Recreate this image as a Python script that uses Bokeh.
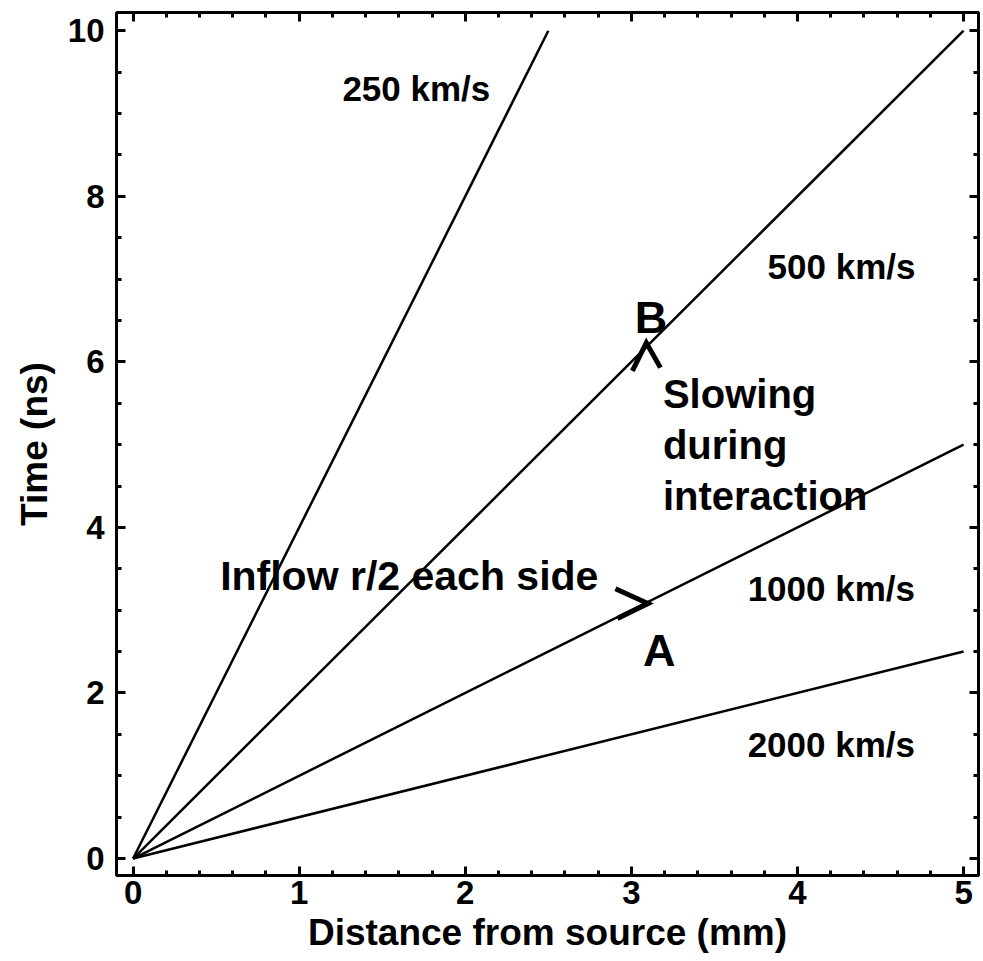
from bokeh.plotting import figure
from bokeh.models import LinearAxis, SingleIntervalTicker, Range1d, CustomJSTickFormatter
from bokeh.core.properties import value
from bokeh.embed import file_html
from bokeh.resources import INLINE

FONT = "Liberation Sans"

# Flight lines from the source: each starts at the origin and ends at the frame edge
speeds = ["250 km/s", "500 km/s", "1000 km/s", "2000 km/s"]
end_distance = [2.5, 5.0, 5.0, 5.0]     # mm
end_time = [10.0, 10.0, 5.0, 2.5]       # ns

# Speed labels (left edge, baseline) in data units
speed_label_x = [1.26, 3.82, 3.70, 3.70]
speed_label_y = [9.30, 7.15, 3.26, 1.375]

# Annotations
note_text = ["Inflow r/2 each side", "Slowing", "during", "interaction"]
note_x = [0.524, 3.19, 3.19, 3.19]
note_y = [3.41, 5.61, 4.99, 4.38]

point_text = ["A", "B"]
point_x = [3.07, 3.02]
point_y = [2.51, 6.53]

# Chevron markers pointing at A and B
chev_a_x = [2.904, 3.10, 2.916]
chev_a_y = [3.26, 3.08, 2.90]
chev_b_x = [3.006, 3.09, 3.175]
chev_b_y = [5.89, 6.23, 5.93]

p = figure(width=983, height=961, output_backend="svg", toolbar_location=None,
           x_range=Range1d(-0.1, 5.09), y_range=Range1d(-0.205, 10.22),
           min_border_left=116, min_border_right=5, min_border_top=12,
           min_border_bottom=86, x_axis_label="Distance from source (mm)",
           y_axis_label="Time (ns)")
p.grid.visible = False
p.background_fill_color = "white"
p.border_fill_color = "white"
p.outline_line_color = "black"
p.outline_line_width = 3
p.outline_line_alpha = 1

# Mirror ticks on the top and right edges, without labels
top = LinearAxis(formatter=CustomJSTickFormatter(code="return ''"))
right = LinearAxis(formatter=CustomJSTickFormatter(code="return ''"))
p.add_layout(top, "above")
p.add_layout(right, "right")

for ax in p.xaxis:
    ax.ticker = SingleIntervalTicker(interval=1, num_minor_ticks=5)
for ax in p.yaxis:
    ax.ticker = SingleIntervalTicker(interval=2, num_minor_ticks=4)

for ax in p.axis:
    ax.axis_line_color = None
    ax.major_tick_in = 9
    ax.major_tick_out = 0
    ax.minor_tick_in = 5
    ax.minor_tick_out = 0
    ax.major_tick_line_width = 3
    ax.minor_tick_line_width = 3
    ax.major_tick_line_color = "black"
    ax.minor_tick_line_color = "black"
    ax.major_label_text_font = FONT
    ax.major_label_text_font_style = "bold"
    ax.major_label_text_font_size = "33px"
    ax.major_label_text_color = "black"
    ax.axis_label_text_font = FONT
    ax.axis_label_text_font_style = "bold"
    ax.axis_label_text_font_size = "37px"
    ax.axis_label_text_color = "black"

for ax in (top, right):
    ax.major_label_standoff = 0

p.xaxis[0].major_label_standoff = 10
p.xaxis[0].axis_label_standoff = 2
p.yaxis[0].major_label_standoff = 12
p.yaxis[0].axis_label_standoff = 10

for xe, ye in zip(end_distance, end_time):
    p.line([0, xe], [0, ye], line_color="black", line_width=2.5)

p.text(x=speed_label_x, y=speed_label_y, text=speeds,
       text_font=value(FONT), text_font_style="bold", text_font_size="35px",
       text_align="left", text_baseline="alphabetic", text_color="black")

p.text(x=note_x[:1], y=note_y[:1], text=note_text[:1],
       text_font=value(FONT), text_font_style="bold", text_font_size="41px",
       text_align="left", text_baseline="alphabetic", text_color="black")
p.text(x=note_x[1:], y=note_y[1:], text=note_text[1:],
       text_font=value(FONT), text_font_style="bold", text_font_size="40px",
       text_align="left", text_baseline="alphabetic", text_color="black")

p.text(x=point_x, y=point_y, text=point_text,
       text_font=value(FONT), text_font_style="bold", text_font_size="45px",
       text_align="left", text_baseline="alphabetic", text_color="black")

p.line(chev_a_x, chev_a_y, line_color="black", line_width=5, line_join="miter")
p.line(chev_b_x, chev_b_y, line_color="black", line_width=5, line_join="miter")

open("out.html", "w").write(file_html(p, INLINE))
